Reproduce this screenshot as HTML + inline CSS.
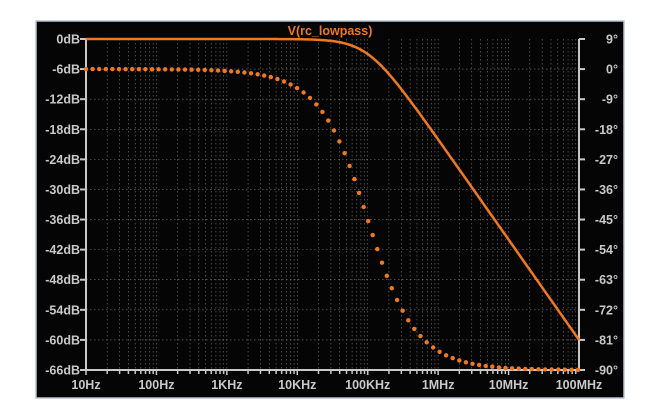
<!DOCTYPE html>
<html><head><style>
body{margin:0;background:#fff;width:647px;height:414px;overflow:hidden}
svg{position:absolute;left:0;top:0}
text{font-family:"Liberation Sans",sans-serif;font-weight:bold;font-size:12.5px;fill:#c8c8c8}
</style></head><body>
<svg id="s" width="647" height="414" viewBox="0 0 647 414">
<rect x="36" y="21" width="588" height="377" fill="#050505" stroke="#b8c4d0" stroke-width="1.5"/>
<g id="grid"></g>
<text x="330" y="35" text-anchor="middle" style="fill:#f07820;font-size:12.5px">V(rc_lowpass)</text>
<g id="axes"></g>
<g id="curves"></g>
</svg>
<script>
const X0=86,X1=579,Y0=39,Y1=370,D=(X1-X0)/7,S=(Y1-Y0)/11;
let g='',a='',c='';
for(let i=0;i<=11;i++){let y=Y0+i*S;
 if(i>0&&i<11)g+=`<line x1="${X0}" y1="${y}" x2="${X1}" y2="${y}" stroke="#777" stroke-width="0.6" stroke-dasharray="1.5,2.5"/>`;
 a+=`<line x1="${X0-6}" y1="${y}" x2="${X0}" y2="${y}" stroke="#c8c8c8" stroke-width="2"/><line x1="${X1}" y1="${y}" x2="${X1+6}" y2="${y}" stroke="#c8c8c8" stroke-width="2"/>`;
 a+=`<text x="${X0-6}" y="${y+4.5}" text-anchor="end">${i==0?'0':-6*i}dB</text>`;
 a+=`<text x="618" y="${y+4.5}" text-anchor="end">${9-9*i}°</text>`;}
const lab=['10Hz','100Hz','1KHz','10KHz','100KHz','1MHz','10MHz','100MHz'];
for(let d=0;d<=7;d++){let x=X0+d*D;
 a+=`<text x="${x}" y="${Y1+19}" text-anchor="middle">${lab[d]}</text>`;
 if(d<7)for(let k=1;k<10;k++){let xx=x+Math.log10(k)*D;
  if(k>1||d>0)g+=`<line x1="${xx}" y1="${Y0}" x2="${xx}" y2="${Y1}" stroke="#777" stroke-width="0.6" stroke-dasharray="1.5,2.5"/>`;
  a+=`<line x1="${xx}" y1="${Y1}" x2="${xx}" y2="${Y1+(k==1?5:4)}" stroke="#c8c8c8" stroke-width="1.5"/>`;}}
a+=`<line x1="${X0}" y1="${Y0}" x2="${X0}" y2="${Y1}" stroke="#c8c8c8" stroke-width="2"/><line x1="${X1}" y1="${Y0}" x2="${X1}" y2="${Y1}" stroke="#c8c8c8" stroke-width="2"/><line x1="${X0}" y1="${Y1}" x2="${X1}" y2="${Y1}" stroke="#c8c8c8" stroke-width="2"/>`;
const fc=1e5;let p='';
for(let x=X0;x<=X1;x+=1){let f=Math.pow(10,1+(x-X0)/D);let db=-10*Math.log10(1+(f/fc)**2);p+=(x==X0?'M':'L')+x+','+(Y0-db/6*S).toFixed(2);}
c+=`<path d="${p}" fill="none" stroke="#f07820" stroke-width="2.5"/>`;
function py(x){let f=Math.pow(10,1+(x-X0)/D);let ph=-Math.atan(f/fc)*180/Math.PI;return Y0+(9-ph)/9*S;}
let acc=0,px=X0,pyv=py(X0);c+=`<circle cx="${X0}" cy="${pyv.toFixed(1)}" r="2.2" fill="#f07820"/>`;
for(let x=X0+0.1;x<=X1;x+=0.1){let y=py(x);acc+=Math.hypot(x-px,0.35*(y-pyv));px=x;pyv=y;if(acc>=6.6){acc=0;c+=`<circle cx="${x.toFixed(1)}" cy="${y.toFixed(1)}" r="2.2" fill="#f07820"/>`;}}
document.getElementById('grid').innerHTML=g;document.getElementById('axes').innerHTML=a;document.getElementById('curves').innerHTML=c;
</script>
</body></html>
